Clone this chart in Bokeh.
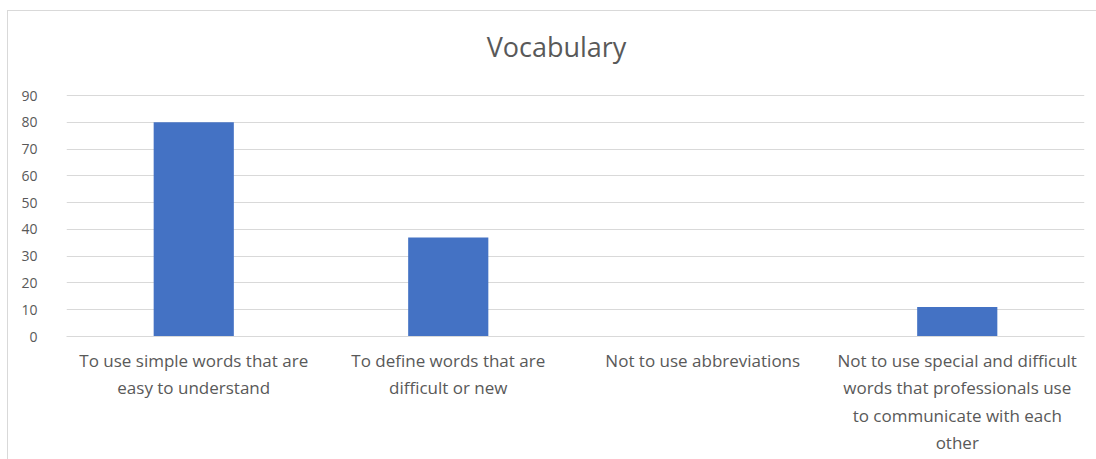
from bokeh.plotting import figure
from bokeh.models import Range1d, FixedTicker, Label
from bokeh.embed import file_html
from bokeh.resources import INLINE

# Survey answers about vocabulary
title_text = "Vocabulary"
categories = [
    "To use simple words that are\neasy to understand",
    "To define words that are\ndifficult or new",
    "Not to use abbreviations",
    "Not to use special and difficult\nwords that professionals use\nto communicate with each\nother",
]
values = [80, 37, 0, 11]
y_ticks = [0, 10, 20, 30, 40, 50, 60, 70, 80, 90]

FONT = "Open Sans"
TEXT_COLOR = "#595959"
GRID_COLOR = "#d9d9d9"
BAR_COLOR = "#4472C4"

W, H = 1089, 449
BORDER_LEFT, BORDER_BOTTOM = 58, 124

# the frame runs up to the top of the chart so the title can sit inside it;
# the range's headroom above 90 carries no ticks or grid lines
p = figure(
    x_range=categories,
    y_range=Range1d(0, 121.4),
    width=W,
    height=H,
    output_backend="svg",
    toolbar_location=None,
    min_border_left=BORDER_LEFT,
    min_border_right=13,
    min_border_top=0,
    min_border_bottom=BORDER_BOTTOM,
    styles={
        "margin-left": "7px",
        "margin-top": "10px",
        "border-left": f"1px solid {GRID_COLOR}",
        "border-top": f"1px solid {GRID_COLOR}",
    },
)

# chart title, centred over the whole chart area (screen units from the frame's lower left)
p.add_layout(Label(
    x=548 - BORDER_LEFT, y=(H - BORDER_BOTTOM) - 35,
    x_units="screen", y_units="screen",
    text=title_text,
    text_align="center",
    text_baseline="middle",
    text_font=FONT,
    text_font_size="27px",
    text_color=TEXT_COLOR,
))

p.vbar(x=categories, top=values, width=0.315, color=BAR_COLOR, line_color=None)

p.outline_line_color = None
p.background_fill_color = "white"
p.border_fill_color = "white"

p.xgrid.grid_line_color = None
p.ygrid.grid_line_color = GRID_COLOR
p.ygrid.grid_line_width = 1

p.yaxis.ticker = FixedTicker(ticks=y_ticks)
p.yaxis.axis_line_color = None
p.yaxis.major_tick_line_color = None
p.yaxis.minor_tick_line_color = None
p.yaxis.major_label_text_font = FONT
p.yaxis.major_label_text_font_size = "14px"
p.yaxis.major_label_text_color = TEXT_COLOR
p.yaxis.major_label_standoff = 23

p.xaxis.axis_line_color = GRID_COLOR
p.xaxis.major_tick_line_color = None
p.xaxis.minor_tick_line_color = None
p.xaxis.major_label_text_font = FONT
p.xaxis.major_label_text_font_size = "17px"
p.xaxis.major_label_text_color = TEXT_COLOR
p.xaxis.major_label_standoff = 6

open("out.html", "w").write(file_html(p, INLINE))
